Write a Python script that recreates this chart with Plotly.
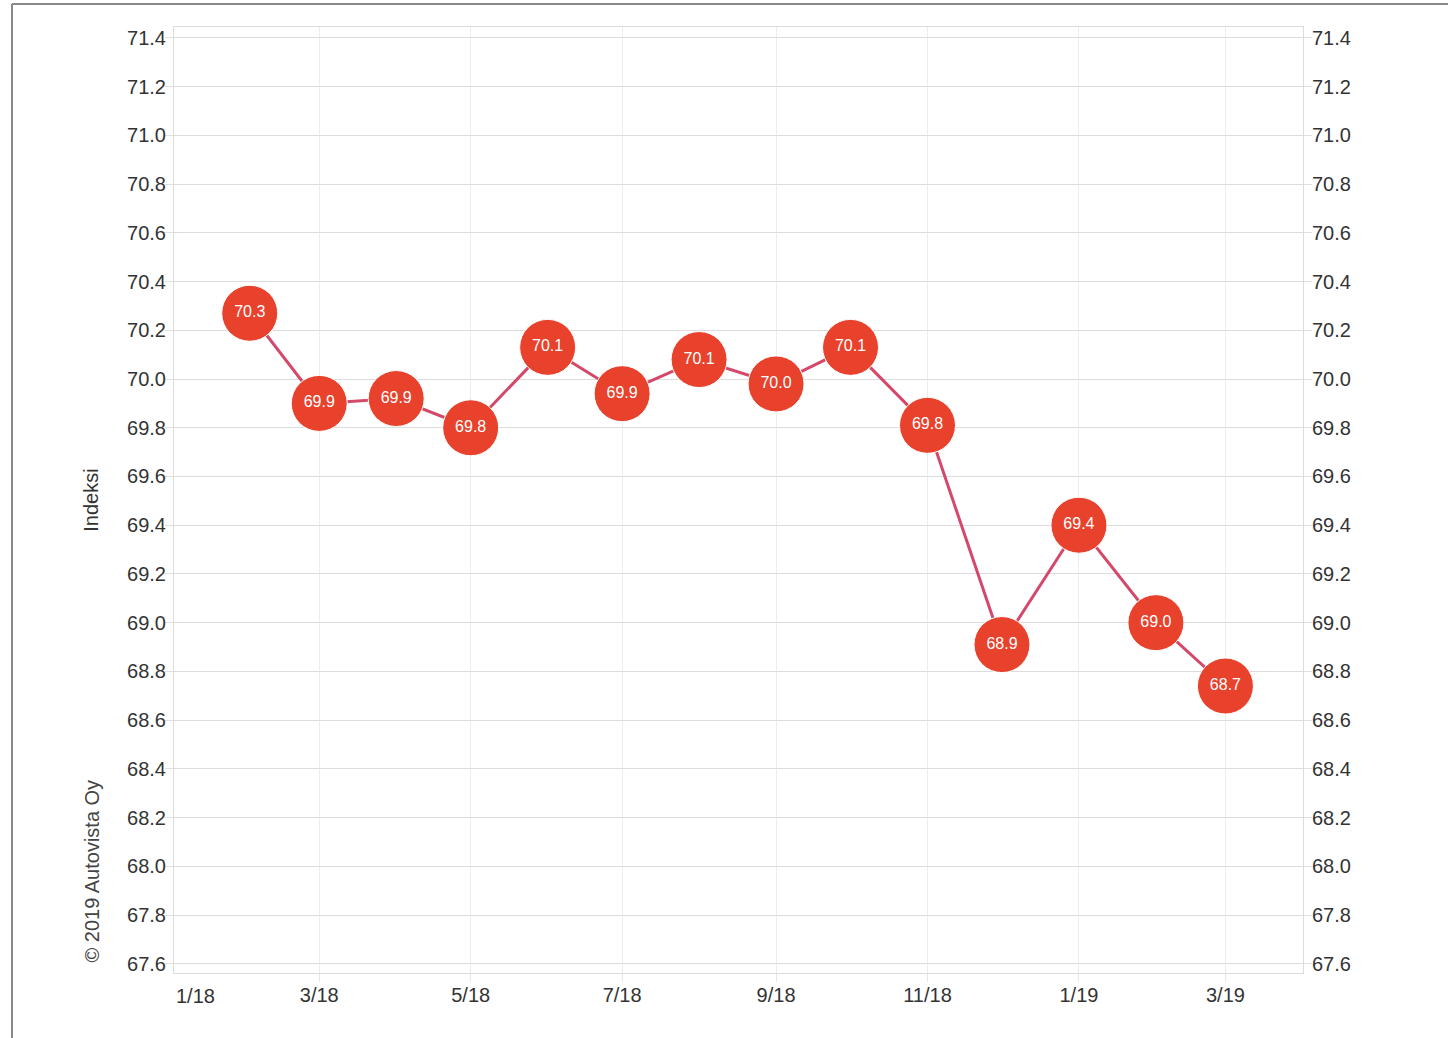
import plotly.graph_objects as go

# Data
months = ["2018-02-01", "2018-03-01", "2018-04-01", "2018-05-01", "2018-06-01",
          "2018-07-01", "2018-08-01", "2018-09-01", "2018-10-01", "2018-11-01",
          "2018-12-01", "2019-01-01", "2019-02-01", "2019-03-01"]
index_values = [70.27, 69.90, 69.92, 69.80, 70.13, 69.94, 70.08, 69.98, 70.13,
                69.81, 68.91, 69.40, 69.00, 68.74]

x_tick_vals = ["2018-01-01", "2018-03-01", "2018-05-01", "2018-07-01",
               "2018-09-01", "2018-11-01", "2019-01-01", "2019-03-01"]
x_tick_text = ["", "3/18", "5/18", "7/18", "9/18", "11/18", "1/19", "3/19"]
first_tick_label = "1/18"

y_tick_vals = [67.6, 67.8, 68.0, 68.2, 68.4, 68.6, 68.8, 69.0, 69.2, 69.4,
               69.6, 69.8, 70.0, 70.2, 70.4, 70.6, 70.8, 71.0, 71.2, 71.4]
y_tick_text = [f"{v:.1f}" for v in y_tick_vals]

y_range = [67.562, 71.445]
x_range = ["2018-01-01 12:00", "2019-04-01 06:00"]

FONT = "Liberation Sans, Arial, sans-serif"

fig = go.Figure()

fig.add_trace(go.Scatter(
    x=months, y=index_values,
    mode="lines+markers+text",
    line=dict(color="#d4496a", width=3),
    marker=dict(size=56, color="#e8412c", line=dict(color="white", width=1)),
    text=[f"{v:.1f}" for v in index_values],
    textposition="middle center",
    textfont=dict(color="white", size=16, family=FONT),
    hoverinfo="x+y",
    showlegend=False,
))

# invisible trace to anchor right axis
fig.add_trace(go.Scatter(
    x=months, y=index_values, yaxis="y2", mode="markers",
    marker=dict(opacity=0), hoverinfo="skip", showlegend=False,
))

axis_font = dict(family=FONT, size=20, color="#333333")

fig.update_layout(
    width=1448, height=1038,
    margin=dict(l=174, r=145, t=27, b=65),
    paper_bgcolor="white", plot_bgcolor="white",
    font=dict(family=FONT, color="#333333"),
    xaxis=dict(
        type="date", range=x_range,
        tickvals=x_tick_vals, ticktext=x_tick_text,
        tickfont=axis_font,
        showgrid=True, gridcolor="#ececec", gridwidth=1,
        ticks="outside", ticklen=8, tickcolor="#e6e6e6",
        ticklabelstandoff=-4,
        showline=True, mirror=True, linecolor="#dcdcdc", linewidth=1,
        zeroline=False,
    ),
    yaxis=dict(
        range=y_range, tickvals=y_tick_vals, ticktext=y_tick_text,
        tickfont=axis_font,
        showgrid=True, gridcolor="#dcdcdc", gridwidth=1,
        ticks="outside", ticklen=8, tickcolor="#e0e0e0",
        ticklabelstandoff=-5,
        showline=True, mirror=True, linecolor="#dcdcdc", linewidth=1,
        zeroline=False,
        title=dict(text="Indeksi", font=dict(family=FONT, size=20, color="#333333"),
                   standoff=23),
    ),
    yaxis2=dict(
        range=y_range, tickvals=y_tick_vals, ticktext=y_tick_text,
        tickfont=axis_font, overlaying="y", side="right",
        showgrid=False, ticks="outside", ticklen=8, tickcolor="#e0e0e0",
        ticklabelstandoff=-4,
        zeroline=False, showline=False,
    ),
    annotations=[
        dict(text=first_tick_label, xref="paper", yref="paper", x=0, y=0,
             xanchor="left", yanchor="top", xshift=0, yshift=-10,
             showarrow=False, font=axis_font),
        dict(text="© 2019 Autovista Oy", xref="paper", yref="paper",
             x=-0.0726, y=0.0085, xanchor="center", yanchor="bottom",
             textangle=-90, showarrow=False,
             font=dict(family=FONT, size=20, color="#444444")),
    ],
    shapes=[
        dict(type="line", xref="paper", yref="paper", x0=-0.1435, x1=1.3,
             y0=1.0243, y1=1.0243, line=dict(color="#888888", width=2)),
        dict(type="line", xref="paper", yref="paper", x0=-0.1435, x1=-0.1435,
             y0=-0.2, y1=1.0243, line=dict(color="#888888", width=2)),
    ],
)

fig.write_html("out.html",
               config={"displayModeBar": False},
               post_script="document.body.style.margin='0';document.body.style.overflow='hidden';")
